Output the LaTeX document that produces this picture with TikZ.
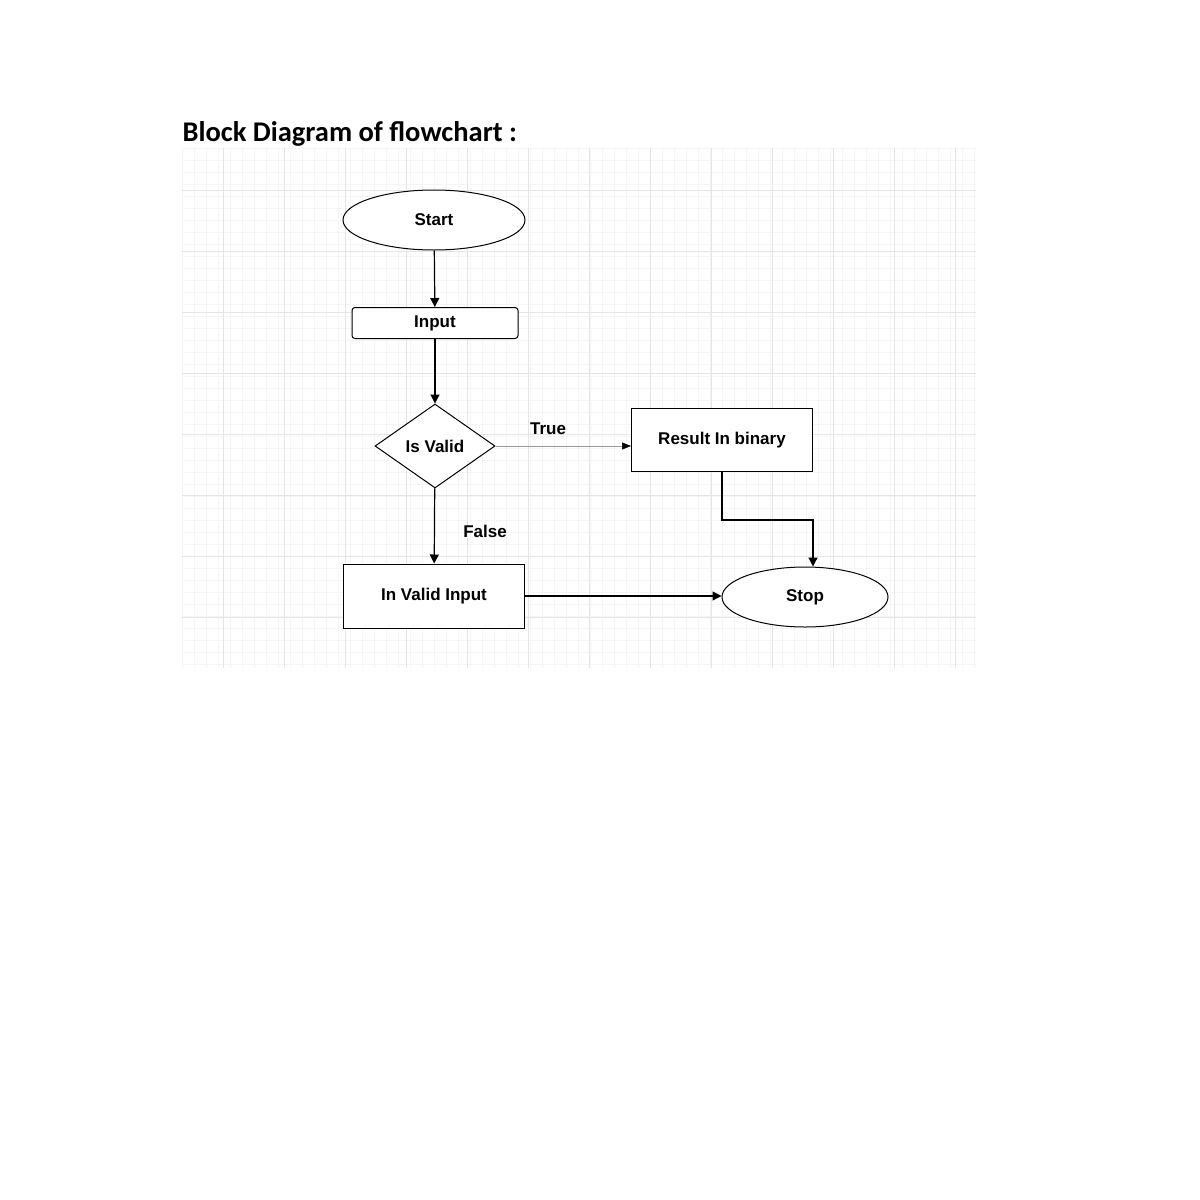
\documentclass[tikz,border=0pt]{standalone}
\usepackage{fontspec}
\setmainfont{Liberation Sans}
\newfontfamily\titlefont{Carlito}
\usetikzlibrary{shapes.geometric,arrows.meta}
\begin{document}
\begin{tikzpicture}[x=1pt,y=-1pt,
  lbl/.style={font=\fontsize{17}{19}\selectfont\bfseries},
  box/.style={draw,line width=1pt,lbl,inner sep=0pt},
  arr/.style={line width=1.2pt,-{Triangle[length=9pt,width=9pt]}}]
\fill[white] (0,0) rectangle (1200,1200);
\useasboundingbox (0,0) rectangle (1200,1200);
% grid
\foreach \x in {182,194,...,976} \draw[black!4,line width=0.5pt] (\x,148)--(\x,668);
\foreach \y in {148,160,...,668} \draw[black!4,line width=0.5pt] (182,\y)--(976,\y);
\foreach \x in {223,284,...,976} \draw[black!10,line width=0.8pt] (\x,148)--(\x,668);
\foreach \y in {190,251,...,668} \draw[black!10,line width=0.8pt] (182,\y)--(976,\y);
\node[anchor=west,font=\titlefont\fontsize{28.5}{31}\selectfont\bfseries] (title) at (179,134) {Block Diagram of flowchart :};
\node[box,ellipse,minimum width=182,minimum height=60,fill=white] (start) at (434,220) {Start};
\node[box,rounded corners=3pt,minimum width=166,minimum height=31,fill=white] (input) at (435,323) {Input};
\node[box,diamond,minimum width=120,minimum height=84,fill=white] (valid) at (435,446) {Is Valid};
\node[box,minimum width=181,minimum height=63,fill=white] (result) at (722,440) {Result In binary};
\node[box,minimum width=181,minimum height=64,fill=white] (invalid) at (434,596) {In Valid Input};
\node[box,ellipse,minimum width=166,minimum height=60,fill=white] (stop) at (805,597) {Stop};
\draw[arr] (start) -- (input);
\draw[arr] (input) -- (valid);
\draw[arr] (valid) -- (invalid);
\draw[black!40,line width=0.5pt,-{Triangle[length=9pt,width=7pt,fill=black,color=black]}] (valid.east) -- (valid.east -| result.west);
\node[lbl] (t) at (548,429) {True};
\node[lbl] (f) at (485,531) {False};
\draw[arr] (result.south) |- (813,520) -- (stop.north -| 813,0);
\draw[arr] (invalid.east) -- (invalid.east -| stop.west);
\end{tikzpicture}
\end{document}
